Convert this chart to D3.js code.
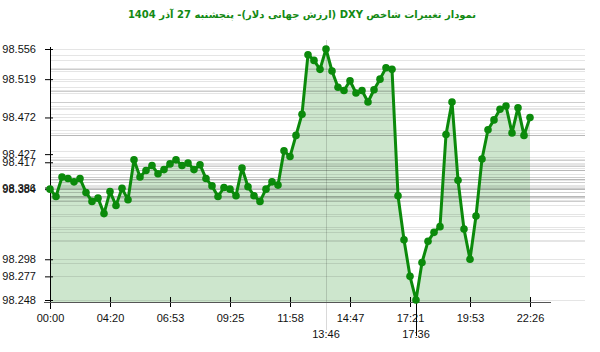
<!DOCTYPE html>
<html>
<head>
<meta charset="utf-8">
<script src="https://cdn.jsdelivr.net/npm/d3@7"></script>
<style>
body { margin: 0; background: #fff; }
svg text { font-family: "Liberation Sans", Arial, sans-serif; }
</style>
</head>
<body>
<script>
var title = 'نمودار تغییرات شاخص DXY (ارزش جهانی دلار)-  پنجشنبه  27 آذر 1404';

// one value per sample
var values = [
  98.384, 98.375, 98.399, 98.397, 98.393, 98.397, 98.380, 98.369, 98.373, 98.354,
  98.381, 98.364, 98.385, 98.371, 98.420, 98.399, 98.407, 98.413, 98.403, 98.408,
  98.415, 98.420, 98.413, 98.416, 98.408, 98.414, 98.397, 98.388, 98.375, 98.386,
  98.384, 98.376, 98.410, 98.387, 98.376, 98.369, 98.384, 98.393, 98.389, 98.431,
  98.424, 98.450, 98.476, 98.549, 98.542, 98.531, 98.556, 98.529, 98.509, 98.505,
  98.517, 98.502, 98.505, 98.491, 98.506, 98.519, 98.533, 98.531, 98.376, 98.322,
  98.277, 98.248, 98.294, 98.320, 98.331, 98.338, 98.451, 98.491, 98.395, 98.335,
  98.298, 98.351, 98.421, 98.457, 98.469, 98.482, 98.486, 98.453, 98.484, 98.450,
  98.472
];

var xTickIndex = [0, 10, 20, 30, 40, 50, 60, 70, 80];
var xTickLabels = ['00:00', '04:20', '06:53', '09:25', '11:58', '14:47', '17:21', '19:53', '22:26'];
var maxLabel = '13:46', minLabel = '17:36';

var yTicks = [98.556, 98.519, 98.472, 98.427, 98.417, 98.386, 98.384, 98.298, 98.277, 98.248];

var W = 600, H = 352, green = '#0b8a0b';

var x = d3.scaleLinear().domain([0, values.length - 1]).range([50, 530]);
var y = d3.scaleLinear().domain([98.248, 98.556]).range([300, 49]);

var svg = d3.select('body').append('svg').attr('width', W).attr('height', H);

svg.append('text')
    .attr('x', 302).attr('y', 18)
    .attr('text-anchor', 'middle')
    .attr('direction', 'rtl')
    .style('font-family', '"DejaVu Sans", sans-serif')
    .style('font-weight', 'bold')
    .style('font-size', '10px')
    .attr('fill', '#138a13')
    .text(title);

// area under the line
var area = d3.area().x(function(d, i){ return x(i); }).y0(302).y1(function(d){ return y(d); });
svg.append('path').datum(values).attr('d', area).attr('fill', '#cde6cd');

// a faint gridline at each sampled value
svg.append('g').selectAll('line').data(values).enter().append('line')
    .attr('x1', 50).attr('x2', 585)
    .attr('y1', function(d){ return Math.round(y(d)) + 0.5; })
    .attr('y2', function(d){ return Math.round(y(d)) + 0.5; })
    .attr('stroke', '#000').attr('stroke-opacity', 0.1);

var iMax = values.indexOf(d3.max(values)), iMin = values.indexOf(d3.min(values));

// vertical marker at the maximum
svg.append('line')
    .attr('x1', Math.round(x(iMax)) + 0.5).attr('x2', Math.round(x(iMax)) + 0.5)
    .attr('y1', 40).attr('y2', 330)
    .attr('stroke', '#000').attr('stroke-opacity', 0.15);

// axes
var yAxis = d3.axisLeft(y).tickValues(yTicks).tickFormat(d3.format('.3f')).tickSize(0).tickPadding(14);
var gy = svg.append('g').attr('transform', 'translate(50,0)').call(yAxis);
gy.select('.domain').remove();
gy.selectAll('text').style('font-size', '11px').attr('fill', '#111').style('font-family', '"Liberation Sans", Arial, sans-serif');
gy.selectAll('.tick').append('line').attr('x1', -5).attr('x2', 3).attr('stroke', '#000');
svg.append('line').attr('x1', 50.5).attr('x2', 50.5).attr('y1', 47).attr('y2', 309).attr('stroke', '#000');

var xAxis = d3.axisBottom(x).tickValues(xTickIndex)
    .tickFormat(function(d, i){ return xTickLabels[i]; }).tickSize(0).tickPadding(12);
var gx = svg.append('g').attr('transform', 'translate(0,302)').call(xAxis);
gx.select('.domain').remove();
gx.selectAll('text').style('font-size', '11px').attr('fill', '#111').style('font-family', '"Liberation Sans", Arial, sans-serif');
gx.selectAll('.tick').append('line').attr('y1', -5).attr('y2', 5).attr('stroke', '#000');
svg.append('line').attr('x1', 44).attr('x2', 551).attr('y1', 302.5).attr('y2', 302.5).attr('stroke', '#555');

// extra labels at max and min
svg.append('text').attr('x', x(iMax)).attr('y', 338).attr('text-anchor', 'middle')
    .style('font-size', '11px').attr('fill', '#111').text(maxLabel);
svg.append('line')
    .attr('x1', Math.round(x(iMin)) + 0.5).attr('x2', Math.round(x(iMin)) + 0.5)
    .attr('y1', 296).attr('y2', 336).attr('stroke', '#000');
svg.append('text').attr('x', x(iMin)).attr('y', 338).attr('text-anchor', 'middle')
    .style('font-size', '11px').attr('fill', '#111').text(minLabel);

// line and points
var line = d3.line().x(function(d, i){ return x(i); }).y(function(d){ return y(d); });
svg.append('path').datum(values).attr('d', line)
    .attr('fill', 'none').attr('stroke', green).attr('stroke-width', 3).attr('stroke-linejoin', 'round');

svg.append('g').selectAll('circle').data(values).enter().append('circle')
    .attr('cx', function(d, i){ return x(i); })
    .attr('cy', function(d){ return y(d); })
    .attr('r', 3.8).attr('fill', green);
</script>
</body>
</html>
